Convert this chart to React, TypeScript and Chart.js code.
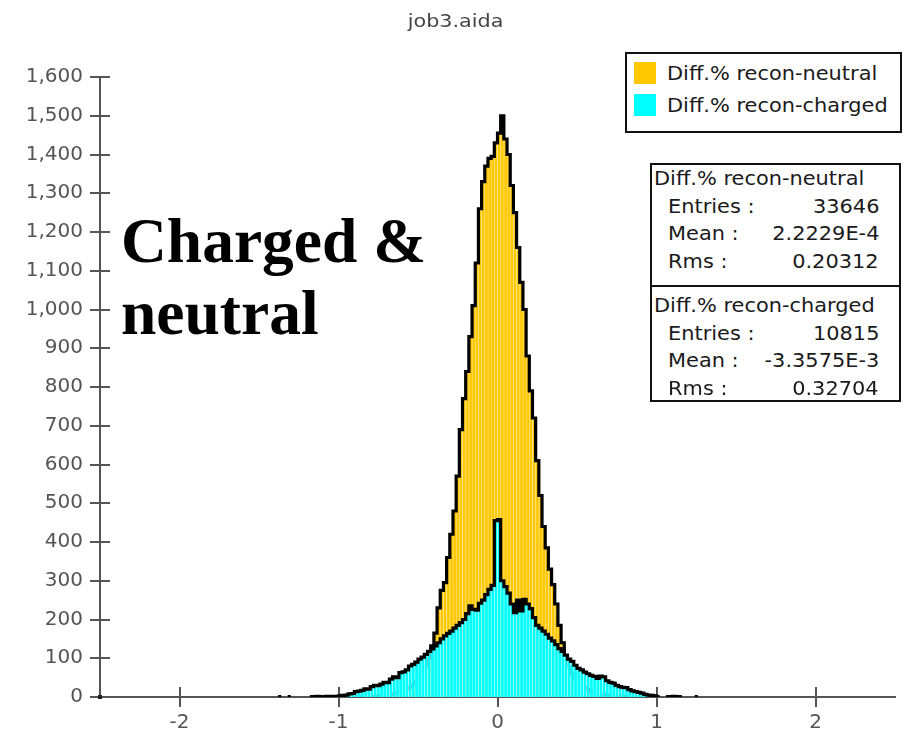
import React, { useEffect, useRef } from "react";
import { Chart, registerables } from "chart.js";

Chart.register(...registerables);

// ---- data -------------------------------------------------------------
const chartTitle = "job3.aida";
const neutralName = "Diff.% recon-neutral";
const chargedName = "Diff.% recon-charged";
const neutralColor = "#FFC800";
const chargedColor = "#00FFFF";
const neutralSeam = "#FFE38A";
const chargedSeam = "#A8FFFF";

// histogram bins: 0.02 wide, first bin edge at -1.40
const binStart = -1.4;
const binWidth = 0.02;

const neutralCounts = [
  0, 0, 0, 0, 0, 0, 0, 0, 0, 0,
  0, 0, 0, 0, 0, 0, 0, 0, 0, 0,
  0, 0, 1, 0, 1, 1, 1, 2, 1, 2,
  2, 3, 3, 4, 5, 6, 7, 9, 11, 13,
  16, 20, 25, 31, 39, 48, 62, 80, 100, 132,
  165, 230, 275, 295, 360, 420, 480, 570, 690, 770,
  840, 930, 1010, 1120, 1260, 1330, 1370, 1390, 1395, 1430,
  1455, 1500, 1440, 1400, 1320, 1250, 1160, 1070, 1000, 880,
  790, 720, 610, 520, 440, 385, 330, 290, 240, 185,
  140, 100, 78, 60, 47, 37, 30, 24, 19, 15,
  12, 10, 8, 6, 5, 4, 3, 3, 2, 2,
  1, 1, 1, 0, 1, 0, 0, 0, 0, 0,
  0, 0, 0, 0, 0, 0, 0, 0, 0, 0,
  0, 0, 0, 0, 0,
];

const chargedCounts = [
  0, 1, 0, 0, 1, 0, 0, 0, 0, 0,
  0, 1, 1, 2, 1, 1, 2, 1, 2, 2,
  3, 4, 5, 8, 9, 14, 15, 17, 21, 20,
  27, 30, 29, 33, 38, 37, 46, 52, 50, 63,
  65, 70, 80, 84, 90, 98, 103, 110, 118, 124,
  132, 140, 150, 158, 164, 170, 178, 185, 192, 200,
  215, 235, 226, 224, 242, 250, 264, 278, 288, 455,
  458, 300, 285, 268, 240, 218, 250, 222, 252, 240,
  228, 205, 185, 178, 170, 162, 152, 145, 135, 125,
  118, 108, 98, 92, 82, 74, 70, 64, 60, 56,
  53, 48, 54, 52, 42, 38, 36, 30, 27, 25,
  24, 19, 16, 14, 12, 10, 7, 5, 4, 3,
  1, 0, 0, 1, 1, 2, 1, 1, 0, 0,
  0, 0, 1, 0, 0,
];

const xTickValues = [-2, -1, 0, 1, 2];
const xMin = -2.5;
const xMax = 2.5;
const yMin = 0;
const yMax = 1600;
const yStep = 100;

const statLabels = ["Entries :", "Mean :", "Rms :"];
const neutralStats = ["33646", "2.2229E-4", "0.20312"];
const chargedStats = ["10815", "-3.3575E-3", "0.32704"];
const noteLines = ["Charged &", "neutral"];

// ---- helpers ----------------------------------------------------------
const binEdge = (k: number) => binStart + k * binWidth;

const barPoints = (counts: number[]) =>
  counts.map((c, k) => ({ x: binEdge(k) + binWidth / 2, y: c }));

// step outline along the bin edges; empty bins break the line
const outlinePoints = (counts: number[]) =>
  counts.flatMap((c, k) =>
    c > 0
      ? [
          { x: binEdge(k), y: c },
          { x: binEdge(k + 1), y: c },
        ]
      : [{ x: binEdge(k) + binWidth / 2, y: null }]
  );

const axisGray = "#555555";
const textFont = "'DejaVu Sans', 'Noto Sans', sans-serif";

// tick marks that cross the axis lines, drawn under the histograms
const crossTicks = {
  id: "crossTicks",
  beforeDatasetsDraw(chart: any) {
    const { ctx, chartArea, scales } = chart;
    ctx.save();
    ctx.strokeStyle = axisGray;
    ctx.lineWidth = 2;
    ctx.beginPath();
    for (const t of scales.y.ticks) {
      const y = Math.round(scales.y.getPixelForValue(t.value));
      ctx.moveTo(chartArea.left - 10, y);
      ctx.lineTo(chartArea.left + 10, y);
    }
    for (const t of scales.x.ticks) {
      const x = Math.round(scales.x.getPixelForValue(t.value));
      ctx.moveTo(x, chartArea.bottom - 10);
      ctx.lineTo(x, chartArea.bottom + 10);
    }
    ctx.stroke();
    // small marker at the origin
    ctx.fillStyle = "#222222";
    ctx.fillRect(chartArea.left - 2, chartArea.bottom - 2, 4, 4);
    ctx.restore();
  },
};

function HistogramChart() {
  const ref = useRef<HTMLCanvasElement>(null);

  useEffect(() => {
    const outline = {
      type: "line" as const,
      borderColor: "#000000",
      borderWidth: 3.2,
      pointRadius: 0,
      spanGaps: false,
      tension: 0,
      fill: false,
    };
    const bars = {
      type: "bar" as const,
      grouped: false,
      barPercentage: 1,
      categoryPercentage: 1,
      borderWidth: { left: 0.8, right: 0, top: 0, bottom: 0 },
      borderSkipped: false,
    };
    const chart = new Chart(ref.current!, {
      type: "bar",
      data: {
        datasets: [
          { ...outline, label: chargedName, data: outlinePoints(chargedCounts), order: 0 },
          {
            ...bars,
            label: chargedName,
            data: barPoints(chargedCounts),
            backgroundColor: chargedColor,
            borderColor: chargedSeam,
            order: 1,
          },
          { ...outline, label: neutralName, data: outlinePoints(neutralCounts), order: 2 },
          {
            ...bars,
            label: neutralName,
            data: barPoints(neutralCounts),
            backgroundColor: neutralColor,
            borderColor: neutralSeam,
            order: 3,
          },
        ] as any,
      },
      options: {
        animation: false,
        responsive: false,
        layout: { padding: { left: 0, top: 77, right: 15, bottom: 0 } },
        plugins: {
          legend: { display: false },
          tooltip: { enabled: false },
          title: { display: false },
        },
        scales: {
          x: {
            type: "linear",
            min: xMin,
            max: xMax,
            offset: false,
            grid: { display: false, drawTicks: false },
            border: { display: true, color: axisGray, width: 2 },
            afterBuildTicks: (s: any) => {
              s.ticks = xTickValues.map((v) => ({ value: v }));
            },
            afterFit: (s: any) => {
              s.height = 41;
            },
            ticks: {
              color: axisGray,
              font: { family: textFont, size: 20 },
              padding: 14,
              autoSkip: false,
              maxRotation: 0,
              callback: (v: any) => String(v),
            },
          },
          y: {
            type: "linear",
            min: yMin,
            max: yMax,
            grid: { display: false, drawTicks: false },
            border: { display: true, color: axisGray, width: 2 },
            afterFit: (s: any) => {
              s.width = 100;
            },
            ticks: {
              stepSize: yStep,
              color: axisGray,
              font: { family: textFont, size: 20 },
              padding: 17,
              callback: (v: any) => Number(v).toLocaleString("en-US"),
            },
          },
        },
      } as any,
      plugins: [crossTicks],
    });
    return () => chart.destroy();
  }, []);

  return (
    <canvas
      ref={ref}
      width={910}
      height={738}
      style={{ position: "absolute", left: 0, top: 0 }}
    />
  );
}

const wideText = (origin: string): React.CSSProperties => ({
  display: "inline-block",
  transform: "scaleX(1.1)",
  transformOrigin: origin,
  whiteSpace: "nowrap",
});

function StatsBlock({ name, values, top }: { name: string; values: string[]; top: number }) {
  const rowH = 27.7;
  return (
    <div style={{ position: "absolute", left: 0, top, width: "100%" }}>
      <div style={{ position: "absolute", left: 2, top: 0, height: rowH, lineHeight: `${rowH}px` }}>
        <span style={wideText("left center")}>{name}</span>
      </div>
      {statLabels.map((lab, i) => (
        <React.Fragment key={lab}>
          <div
            style={{
              position: "absolute",
              left: 16,
              top: rowH * (i + 1),
              height: rowH,
              lineHeight: `${rowH}px`,
            }}
          >
            <span style={wideText("left center")}>{lab}</span>
          </div>
          <div
            style={{
              position: "absolute",
              right: 20,
              top: rowH * (i + 1),
              height: rowH,
              lineHeight: `${rowH}px`,
              textAlign: "right",
            }}
          >
            <span style={wideText("right center")}>{values[i]}</span>
          </div>
        </React.Fragment>
      ))}
    </div>
  );
}

export default function App() {
  const legendItems = [
    { name: neutralName, color: neutralColor },
    { name: chargedName, color: chargedColor },
  ];
  return (
    <div
      style={{
        position: "absolute",
        left: 0,
        top: 0,
        width: 910,
        height: 738,
        background: "#ffffff",
        overflow: "hidden",
        fontFamily: textFont,
        color: "#1a1a1a",
      }}
    >
      <HistogramChart />

      {/* title */}
      <div
        style={{
          position: "absolute",
          left: 356,
          top: 11,
          width: 200,
          textAlign: "center",
          fontSize: 18,
          lineHeight: "20px",
          color: "#444444",
        }}
      >
        <span style={{ ...wideText("center center"), transform: "scaleX(1.15)" }}>{chartTitle}</span>
      </div>

      {/* legend */}
      <div
        style={{
          position: "absolute",
          left: 625,
          top: 52,
          width: 277,
          height: 81,
          boxSizing: "border-box",
          border: "2px solid #111111",
          background: "#ffffff",
          fontSize: 19,
        }}
      >
        {legendItems.map((it, i) => (
          <div
            key={it.name}
            style={{ position: "absolute", left: 7, top: 7 + i * 32, height: 24, display: "flex", alignItems: "center" }}
          >
            <div style={{ width: 22, height: 22, background: it.color }} />
            <div style={{ marginLeft: 11, lineHeight: "24px" }}>
              <span style={wideText("left center")}>{it.name}</span>
            </div>
          </div>
        ))}
      </div>

      {/* statistics box */}
      <div
        style={{
          position: "absolute",
          left: 650,
          top: 163,
          width: 251,
          height: 239,
          boxSizing: "border-box",
          border: "2px solid #111111",
          background: "#ffffff",
          fontSize: 19,
        }}
      >
        <StatsBlock name={neutralName} values={neutralStats} top={0} />
        <div style={{ position: "absolute", left: 0, right: 0, top: 120, height: 2, background: "#111111" }} />
        <StatsBlock name={chargedName} values={chargedStats} top={127} />
      </div>

      {/* annotation */}
      <div
        style={{
          position: "absolute",
          left: 121,
          top: 205,
          fontFamily: "'Liberation Serif', 'Times New Roman', serif",
          fontWeight: "bold",
          fontSize: 63.5,
          lineHeight: "72px",
          color: "#000000",
        }}
      >
        {noteLines.map((l) => (
          <div key={l}>{l}</div>
        ))}
      </div>
    </div>
  );
}
